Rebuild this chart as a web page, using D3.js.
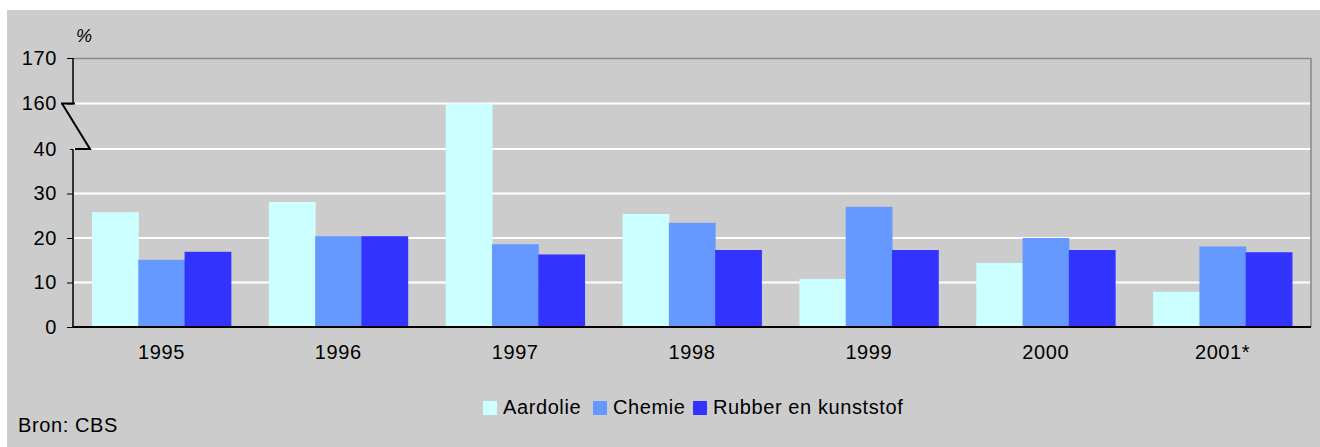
<!DOCTYPE html>
<html>
<head>
<meta charset="utf-8">
<script src="https://cdn.jsdelivr.net/npm/d3@7/dist/d3.min.js"></script>
<style>
  body { margin: 0; background: #fff; }
  text { font-family: "Liberation Sans", Arial, sans-serif; fill: #000; }
</style>
</head>
<body>
<div class="chart"></div>
<script>
// Data
var years = ["1995", "1996", "1997", "1998", "1999", "2000", "2001*"];
var seriesNames = ["Aardolie", "Chemie", "Rubber en kunststof"];
var aardolie = [25.8, 28.1, 160, 25.4, 10.8, 14.4, 7.9];
var chemie = [15.1, 20.4, 18.6, 23.4, 27.0, 20.0, 18.1];
var rubber = [16.9, 20.4, 16.3, 17.3, 17.3, 17.3, 16.8];
var yTicks = [0, 10, 20, 30, 40, 160, 170];

var colors = ["#ccffff", "#6699ff", "#3333ff"];
var seriesValues = [aardolie, chemie, rubber];

var svgWidth = 1320;
var svgHeight = 447;
var fontSize = "20px";
var spacing = "0.6px";

var margin = { top: 58, right: 9, bottom: 120, left: 73 };
var width = svgWidth - margin.left - margin.right;
var height = svgHeight - margin.top - margin.bottom;

var svg = d3.select(".chart")
  .append("svg")
  .attr("width", svgWidth)
  .attr("height", svgHeight);

// grey panel
svg.append("rect")
  .attr("x", 7).attr("y", 10)
  .attr("width", svgWidth - 7).attr("height", svgHeight - 10)
  .attr("fill", "#cccccc");

var chartGroup = svg.append("g")
  .attr("transform", `translate(${margin.left}, ${margin.top})`);

// x scales
var x0 = d3.scaleBand()
  .domain(years)
  .range([0, width])
  .paddingInner(0.215)
  .paddingOuter(0.1075);

var x1 = d3.scaleBand()
  .domain(seriesNames)
  .range([0, x0.bandwidth()]);

// broken y scale: 0-40 then 160-170
var y = d3.scaleLinear()
  .domain([0, 40, 160, 170])
  .range([height, height - 4 * 44.5, 45.5, 0]);

// gridlines
chartGroup.selectAll(".grid")
  .data(yTicks.filter(d => d > 0 && d < 170))
  .enter()
  .append("line")
  .attr("x1", d => d === 160 ? 2 : 0)
  .attr("x2", width)
  .attr("y1", d => y(d))
  .attr("y2", d => y(d))
  .attr("stroke", "#ffffff")
  .attr("stroke-width", 2);

// plot border top/right
chartGroup.append("path")
  .attr("d", `M0,0.5H${width}V${height}`)
  .attr("fill", "none")
  .attr("stroke", "#888888")
  .attr("stroke-width", 1.5);

// bars
var rows = years.map((yr, i) => ({
  year: yr,
  vals: seriesNames.map((s, j) => ({ name: s, value: seriesValues[j][i], color: colors[j] }))
}));

var groups = chartGroup.selectAll(".group")
  .data(rows)
  .enter()
  .append("g")
  .attr("transform", d => `translate(${x0(d.year)},0)`);

groups.selectAll("rect")
  .data(d => d.vals)
  .enter()
  .append("rect")
  .attr("x", d => x1(d.name))
  .attr("width", x1.bandwidth() + 0.5)
  .attr("y", d => y(d.value))
  .attr("height", d => height - y(d.value))
  .attr("fill", d => d.color);

// y axis ticks and labels
var leftAxis = d3.axisLeft(y)
  .tickValues(yTicks)
  .tickSize(6)
  .tickPadding(10)
  .tickFormat(d3.format("d"));

var yAxis = chartGroup.append("g").call(leftAxis);
yAxis.select(".domain").remove();
yAxis.selectAll("text")
  .style("font-size", fontSize)
  .style("letter-spacing", spacing)
  .attr("font-family", null);
yAxis.selectAll("line").attr("stroke", "#000");
yAxis.selectAll(".tick").filter(d => d === 40).select("line").attr("x2", -3);

// y axis line with a gap for the break
chartGroup.append("line")
  .attr("x1", 0).attr("x2", 0)
  .attr("y1", 0).attr("y2", y(160))
  .attr("stroke", "#000").attr("stroke-width", 1.5);
chartGroup.append("line")
  .attr("x1", 0).attr("x2", 0)
  .attr("y1", y(40)).attr("y2", height)
  .attr("stroke", "#000").attr("stroke-width", 1.5);

// break mark
chartGroup.append("path")
  .attr("d", `M-12,${y(160)}H2M-11,${y(160)}L17,${y(40)}H2`)
  .attr("fill", "none")
  .attr("stroke", "#000")
  .attr("stroke-width", 2);

// x axis
chartGroup.append("line")
  .attr("x1", 0).attr("x2", width)
  .attr("y1", height).attr("y2", height)
  .attr("stroke", "#000").attr("stroke-width", 2);

chartGroup.selectAll(".xlabel")
  .data(years)
  .enter()
  .append("text")
  .attr("x", d => x0(d) + x0.bandwidth() / 2)
  .attr("y", height + 32)
  .attr("text-anchor", "middle")
  .style("font-size", fontSize)
  .style("letter-spacing", spacing)
  .text(d => d);

// unit label
svg.append("text")
  .attr("x", 76)
  .attr("y", 42)
  .style("font-size", "18px")
  .style("font-style", "italic")
  .text("%");

// legend
var legendX = [483, 593, 693];
var legend = svg.selectAll(".legend")
  .data(seriesNames)
  .enter()
  .append("g")
  .attr("transform", (d, i) => `translate(${legendX[i]}, 401)`);

legend.append("rect")
  .attr("width", 14)
  .attr("height", 14)
  .attr("fill", (d, i) => colors[i]);

legend.append("text")
  .attr("x", 20)
  .attr("y", 13)
  .style("font-size", fontSize)
  .style("letter-spacing", spacing)
  .text(d => d);

// source
svg.append("text")
  .attr("x", 18)
  .attr("y", 432)
  .style("font-size", fontSize)
  .style("letter-spacing", spacing)
  .text("Bron: CBS");
</script>
</body>
</html>
